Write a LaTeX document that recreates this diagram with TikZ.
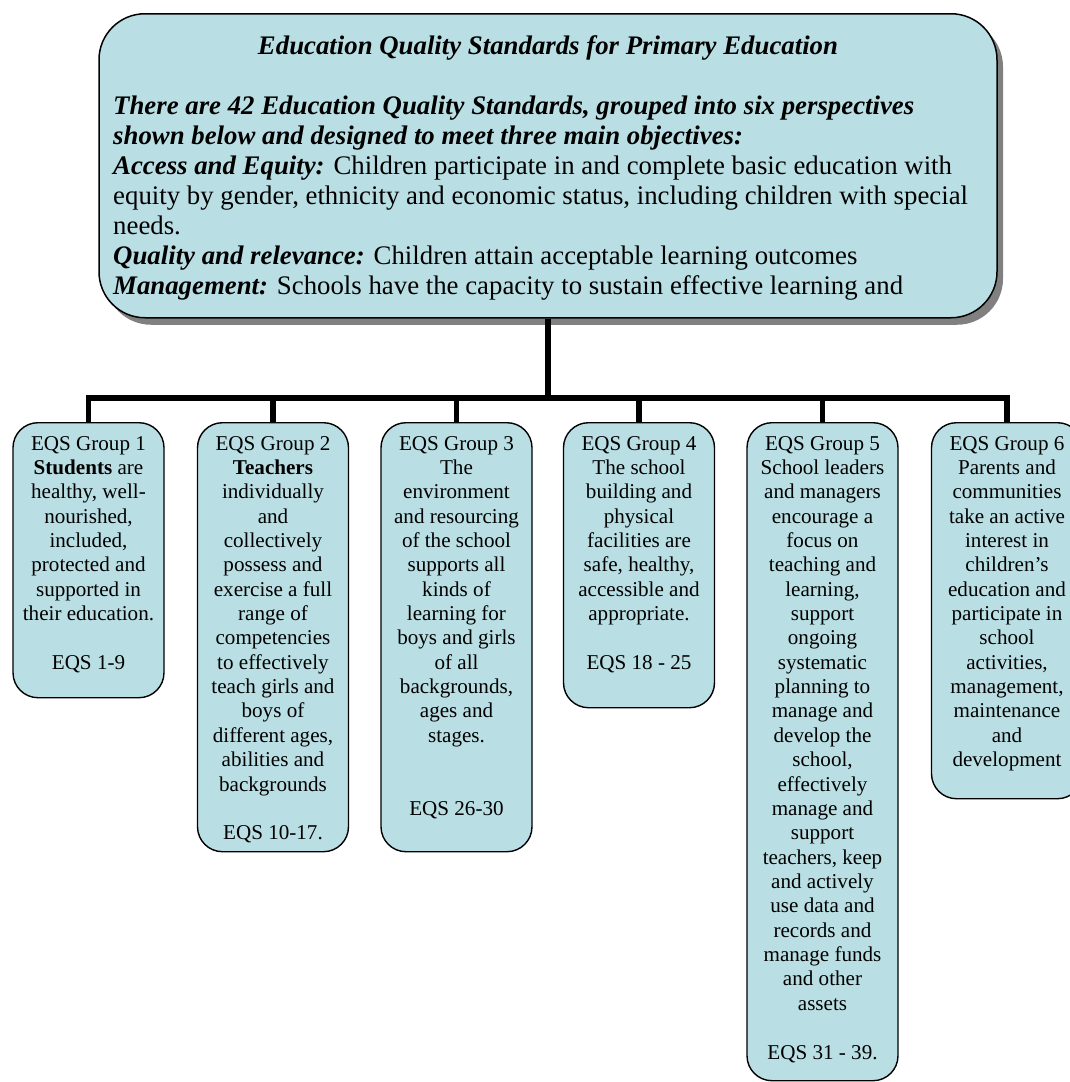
\documentclass[tikz,border=0pt]{standalone}
\usepackage{fontspec}
\setmainfont{Liberation Serif}
\usetikzlibrary{shadows}
\definecolor{boxfill}{RGB}{185,223,228}
\begin{document}
\begin{tikzpicture}[x=1pt,y=-1pt,
  topbox/.style={draw=black, line width=1.5pt, fill=boxfill, rounded corners=46pt, inner sep=0pt,
    drop shadow={shadow xshift=6pt, shadow yshift=-7pt, fill=black!50, opacity=1}},
  gbox/.style={draw=black, line width=1.4pt, fill=boxfill, rounded corners=25pt, inner sep=0pt,
    minimum width=151pt, anchor=north},
  gtext/.style={inner sep=0pt, anchor=base, font=\fontsize{21.1}{24.36}\selectfont},
  toptext/.style={inner sep=0pt, font=\fontsize{26.8}{30}\selectfont},
  conn/.style={line width=5.5pt, draw=black, line join=miter}]
\useasboundingbox (0,0) rectangle (1070,1082);
\fill[white] (0,0) rectangle (1070,1082);

% top box
\node[topbox, minimum width=898pt, minimum height=304pt, anchor=north] (top) at (548,13) {};
\node[toptext, anchor=base, font=\fontsize{26.8}{30}\selectfont\bfseries\itshape] (title) at (548,54)
  {Education Quality Standards for Primary Education};
\node[toptext, anchor=base west] (body) at (113,114) {\parbox[t]{950pt}{\raggedright
  \textbf{\textit{There are 42 Education Quality Standards, grouped into six perspectives}}\\
  \textbf{\textit{shown below and designed to meet three main objectives:}}\\
  \textbf{\textit{Access and Equity:}} Children participate in and complete basic education with\\
  equity by gender, ethnicity and economic status, including children with special\\
  needs.\\
  \textbf{\textit{Quality and relevance:}} Children attain acceptable learning outcomes\\
  \textbf{\textit{Management:}} Schools have the capacity to sustain effective learning and}};

% group boxes
\node[gbox, minimum height=275pt] (g1) at (88.5,422) {};
\node[gbox, minimum height=429pt] (g2) at (273,422) {};
\node[gbox, minimum height=429pt] (g3) at (456.5,422) {};
\node[gbox, minimum height=285pt] (g4) at (639,422) {};
\node[gbox, minimum height=658pt] (g5) at (822.5,422) {};
\node[gbox, minimum height=376pt] (g6) at (1007,422) {};

% group texts
\node[gtext] (gt1) at (88.5,450) {\parbox[t]{150pt}{\centering
  EQS Group 1\\ \textbf{Students} are\\ healthy, well-\\ nourished,\\ included,\\ protected and\\
  supported in\\ their education.\\[\baselineskip] EQS 1-9}};
\node[gtext] (gt2) at (273,450) {\parbox[t]{150pt}{\centering
  EQS Group 2\\ \textbf{Teachers}\\ individually\\ and\\ collectively\\ possess and\\ exercise a full\\
  range of\\ competencies\\ to effectively\\ teach girls and\\ boys of\\ different ages,\\
  abilities and\\ backgrounds\\[\baselineskip] EQS 10-17.}};
\node[gtext] (gt3) at (456.5,450) {\parbox[t]{150pt}{\centering
  EQS Group 3\\ The\\ environment\\ and resourcing\\ of the school\\ supports all\\ kinds of\\
  learning for\\ boys and girls\\ of all\\ backgrounds,\\ ages and\\ stages.\\[2\baselineskip] EQS 26-30}};
\node[gtext] (gt4) at (639,450) {\parbox[t]{150pt}{\centering
  EQS Group 4\\ The school\\ building and\\ physical\\ facilities are\\ safe, healthy,\\
  accessible and\\ appropriate.\\[\baselineskip] EQS 18 - 25}};
\node[gtext] (gt5) at (822.5,450) {\parbox[t]{150pt}{\centering
  EQS Group 5\\ School leaders\\ and managers\\ encourage a\\ focus on\\ teaching and\\ learning,\\
  support\\ ongoing\\ systematic\\ planning to\\ manage and\\ develop the\\ school,\\ effectively\\
  manage and\\ support\\ teachers, keep\\ and actively\\ use data and\\ records and\\ manage funds\\
  and other\\ assets\\[\baselineskip] EQS 31 - 39.}};
\node[gtext] (gt6) at (1007,450) {\parbox[t]{150pt}{\centering
  EQS Group 6\\ Parents and\\ communities\\ take an active\\ interest in\\ children’s\\ education and\\
  participate in\\ school\\ activities,\\ management,\\ maintenance\\ and\\ development}};

% connectors
\coordinate (bus) at (548,398);
\draw[conn] (top.south) -- (top.south |- bus);
\draw[conn] (g1.north) -- (g1.north |- bus) -- (g6.north |- bus) -- (g6.north);
\foreach \g in {g2,g3,g4,g5} \draw[conn] (\g.north) -- (\g.north |- bus);
\end{tikzpicture}
\end{document}
